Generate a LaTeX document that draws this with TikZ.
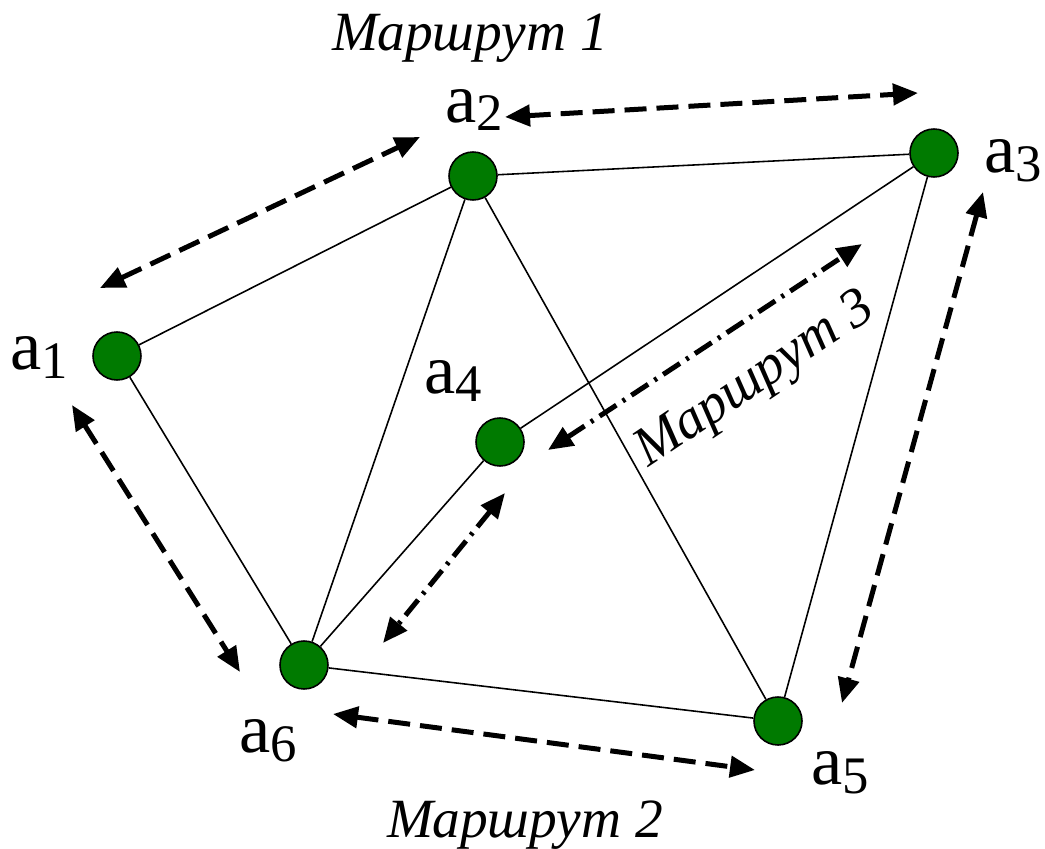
\documentclass[tikz,border=0pt]{standalone}
\usepackage{fontspec}
\setmainfont{Liberation Serif}
\usepackage{xcolor}
\usepackage{tikz}
\usetikzlibrary{positioning,arrows.meta}
\definecolor{vgreen}{RGB}{0,122,0}
\newcommand\vlab[1]{a\raisebox{-5pt}{\fontsize{30}{30}\selectfont #1}}

\begin{document}
\begin{tikzpicture}[vertex/.style={circle,draw,fill=vgreen,line width=0.9pt,minimum size=0.96cm,inner sep=0pt},edge/.style={line width=0.9pt},vlabel/.style={font=\fontsize{40}{48}\selectfont,inner sep=0pt},route/.style={font=\fontsize{31.5}{36}\selectfont\itshape,inner sep=0pt},dasharrow/.style={{Triangle[length=0.5cm,width=0.42cm]}-{Triangle[length=0.5cm,width=0.42cm]},line width=0.1cm,dash pattern=on 0.44cm off 0.2cm},dotarrow/.style={{Triangle[length=0.5cm,width=0.42cm]}-{Triangle[length=0.5cm,width=0.42cm]},line width=0.1cm,dash pattern=on 0.4cm off 0.15cm on 0.06cm off 0.15cm}]
\useasboundingbox (0,0) rectangle (20.9,-16.98);
\node[vertex] (a1) at (2.34,-7.12) {};
\node[vertex] (a2) at (9.46,-3.52) {};
\node[vertex] (a3) at (18.68,-3.06) {};
\node[vertex] (a4) at (10.0,-8.84) {};
\node[vertex] (a5) at (15.56,-14.42) {};
\node[vertex] (a6) at (6.08,-13.3) {};
\node[vlabel] (l1) at (0.78,-7.15) {\vlab{1}};
\node[vlabel] (l2) at (9.48,-2.2) {\vlab{2}};
\node[vlabel] (l3) at (20.26,-3.22) {\vlab{3}};
\node[vlabel] (l4) at (9.06,-7.62) {\vlab{4}};
\node[vlabel] (l5) at (16.8,-15.46) {\vlab{5}};
\node[vlabel] (l6) at (5.36,-14.82) {\vlab{6}};
\node[route] (m1) at (9.4,-0.76) {Маршрут 1};
\node[route] (m2) at (10.5,-16.5) {Маршрут 2};
\node[route,rotate=33.8] (m3) at (15.12,-7.62) {Маршрут 3};
\draw[edge] (a1)--(a2); \draw[edge] (a2)--(a3); \draw[edge] (a1)--(a6);
\draw[edge] (a2)--(a6); \draw[edge] (a2)--(a5); \draw[edge] (a3)--(a4);
\draw[edge] (a3)--(a5); \draw[edge] (a4)--(a6); \draw[edge] (a6)--(a5);
\coordinate (p1) at (2.0,-5.76); \coordinate (q1) at (8.4,-2.74);
\coordinate (p2) at (10.1,-2.34); \coordinate (q2) at (18.36,-1.86);
\coordinate (p3) at (19.66,-3.84); \coordinate (q3) at (16.84,-14.06);
\coordinate (p4) at (6.66,-14.28); \coordinate (q4) at (15.1,-15.4);
\coordinate (p5) at (1.44,-8.1); \coordinate (q5) at (4.8,-13.44);
\coordinate (p6) at (10.1,-9.86); \coordinate (q6) at (7.66,-12.86);
\coordinate (p7) at (10.96,-9.0); \coordinate (q7) at (17.24,-4.88);
\draw[dasharrow] (p1)--(q1); \draw[dasharrow] (p2)--(q2); \draw[dasharrow] (p3)--(q3);
\draw[dasharrow] (p4)--(q4); \draw[dasharrow] (p5)--(q5);
\draw[dotarrow] (p6)--(q6); \draw[dotarrow] (p7)--(q7);
\end{tikzpicture}
\end{document}
